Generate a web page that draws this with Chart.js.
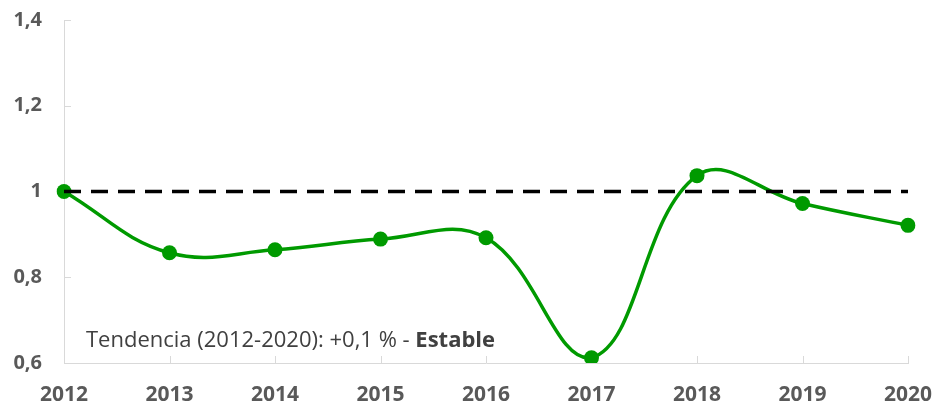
<!DOCTYPE html>
<html>
<head>
<meta charset="utf-8">
<script src="https://cdn.jsdelivr.net/npm/chart.js@4/dist/chart.umd.min.js"></script>
<style>
html,body{margin:0;padding:0;background:#fff;}
#wrap{width:936px;height:407px;}
</style>
</head>
<body>
<div id="wrap"><canvas id="c" width="936" height="407"></canvas></div>
<script>
const years = ['2012','2013','2014','2015','2016','2017','2018','2019','2020'];
const indexValues = [1.0, 0.857, 0.864, 0.889, 0.892, 0.612, 1.037, 0.972, 0.921];
const referenceValues = [1, 1, 1, 1, 1, 1, 1, 1, 1];
const yTickValues = [0.6, 0.8, 1.0, 1.2, 1.4];
const yTickLabels = ['0,6', '0,8', '1', '1,2', '1,4'];
const noteRegular = 'Tendencia (2012-2020): +0,1 % - ';
const noteBold = 'Estable';

const AXIS_COLOR = '#d9d9d9';
const LABEL_COLOR = '#595959';

const innerTicks = {
  id: 'innerTicks',
  beforeDatasetsDraw(chart) {
    const ctx = chart.ctx, a = chart.chartArea;
    const xs = chart.scales.x, ys = chart.scales.y;
    ctx.save();
    ctx.strokeStyle = AXIS_COLOR;
    ctx.lineWidth = 1;
    ctx.beginPath();
    ys.ticks.forEach(t => {
      const y = Math.round(ys.getPixelForValue(t.value)) + 0.5;
      ctx.moveTo(a.left, y); ctx.lineTo(a.left + 7, y);
    });
    years.forEach((yr, i) => {
      if (i === 0) return;
      const x = Math.round(xs.getPixelForValue(i)) + 0.5;
      ctx.moveTo(x, a.bottom); ctx.lineTo(x, a.bottom - 7);
    });
    ctx.stroke();
    ctx.restore();
  }
};

const note = {
  id: 'note',
  afterDraw(chart) {
    const ctx = chart.ctx, a = chart.chartArea;
    ctx.save();
    ctx.textBaseline = 'alphabetic';
    ctx.fillStyle = '#404040';
    ctx.font = '22px "Open Sans"';
    const x0 = a.left + 22, y0 = a.bottom - 16;
    ctx.fillText(noteRegular, x0, y0);
    const w = ctx.measureText(noteRegular).width;
    ctx.font = 'bold 22px "Open Sans"';
    ctx.fillText(noteBold, x0 + w, y0);
    ctx.restore();
  }
};

new Chart(document.getElementById('c'), {
  type: 'line',
  data: {
    labels: years,
    datasets: [
      {
        data: referenceValues,
        borderColor: '#000000',
        borderWidth: 3.5,
        borderDash: [17, 10],
        pointRadius: 0,
        tension: 0,
        order: 0
      },
      {
        data: indexValues,
        borderColor: '#009a00',
        backgroundColor: '#009a00',
        borderWidth: 3.5,
        pointRadius: 7.5,
        pointBorderWidth: 0,
        pointBackgroundColor: '#009a00',
        tension: 0.4,
        order: 1
      }
    ]
  },
  options: {
    responsive: false,
    animation: false,
    devicePixelRatio: 1,
    layout: { padding: { top: 20, right: 28, left: 0, bottom: 0 } },
    plugins: { legend: { display: false }, tooltip: { enabled: false } },
    scales: {
      x: {
        offset: false,
        grid: { display: false, drawTicks: false },
        border: { display: true, color: AXIS_COLOR, width: 1 },
        ticks: {
          color: LABEL_COLOR,
          font: { family: '"Open Sans"', size: 21, weight: 'bold' },
          padding: 19,
          maxRotation: 0,
          autoSkip: false
        },
        afterFit(s) { s.height = 44; s.paddingLeft = 0; s.paddingRight = 0; }
      },
      y: {
        min: 0.6, max: 1.4,
        grid: { display: false, drawTicks: false },
        border: { display: true, color: AXIS_COLOR, width: 1 },
        afterBuildTicks(s) { s.ticks = yTickValues.map(v => ({ value: v })); },
        ticks: {
          color: LABEL_COLOR,
          font: { family: '"Open Sans"', size: 20, weight: 'bold' },
          padding: 22,
          callback: (v, i) => yTickLabels[i]
        },
        afterFit(s) { s.width = 64; s.paddingTop = 0; s.paddingBottom = 0; }
      }
    }
  },
  plugins: [innerTicks, note]
});
</script>
</body>
</html>
